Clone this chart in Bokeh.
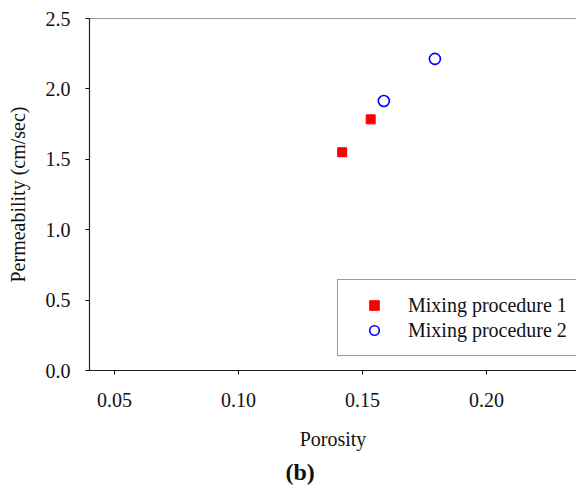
from bokeh.plotting import figure
from bokeh.models import Range1d, FixedTicker, Span, Title, NumeralTickFormatter
from bokeh.embed import file_html
from bokeh.resources import INLINE

# Data
proc1_porosity = [0.1418, 0.1533]
proc1_perm = [1.55, 1.784]
proc2_porosity = [0.1586, 0.1792]
proc2_perm = [1.914, 2.213]

x_ticks = [0.05, 0.10, 0.15, 0.20]
y_ticks = [0.0, 0.5, 1.0, 1.5, 2.0, 2.5]

FONT = "'Liberation Serif', 'Times New Roman', serif"
FS = "20px"

p = figure(width=576, height=488, output_backend="svg", toolbar_location=None,
           x_range=Range1d(0.0399, 0.2363), y_range=Range1d(0, 2.5),
           min_border_left=89, min_border_right=0, min_border_top=18, min_border_bottom=116)
p.outline_line_color = None
p.grid.grid_line_color = None
p.background_fill_color = "white"
p.border_fill_color = "white"

p.add_layout(Span(location=2.5, dimension="width", line_color="#333333", line_width=1.2))

p.scatter(proc1_porosity, proc1_perm, marker="square", size=9, fill_color="#ff0000",
          line_color="#ff0000", legend_label="Mixing procedure 1")
p.scatter(proc2_porosity, proc2_perm, marker="circle", size=11, fill_color=None,
          line_color="#0000ff", line_width=1.6, legend_label="Mixing procedure 2")

for ax in (p.xaxis[0], p.yaxis[0]):
    ax.axis_line_color = "#222222"
    ax.axis_line_width = 1.2
    ax.major_tick_out = 4
    ax.major_tick_in = 0
    ax.minor_tick_line_color = None
    ax.major_label_text_font = FONT
    ax.major_label_text_font_size = FS
    ax.major_label_text_color = "#111111"
    ax.axis_label_text_font = FONT
    ax.axis_label_text_font_size = FS
    ax.axis_label_text_font_style = "normal"
    ax.axis_label_text_color = "#111111"

p.xaxis.ticker = FixedTicker(ticks=x_ticks)
p.yaxis.ticker = FixedTicker(ticks=y_ticks)
p.xaxis.formatter = NumeralTickFormatter(format="0.00")
p.yaxis.formatter = NumeralTickFormatter(format="0.0")
p.xaxis.axis_label = "Porosity"
p.yaxis.axis_label = "Permeability (cm/sec)"
p.xaxis.major_label_standoff = 18
p.yaxis.major_label_standoff = 15
p.xaxis.axis_label_standoff = 18
p.yaxis.axis_label_standoff = 14

lg = p.legend[0]
lg.location = (248, 14)
lg.padding = 13
lg.spacing = 1
lg.glyph_width = 46
lg.glyph_height = 24
lg.label_height = 24
lg.label_standoff = 11
lg.label_text_font = FONT
lg.label_text_font_size = FS
lg.label_text_color = "#111111"
lg.border_line_color = "#333333"
lg.border_line_width = 1.2
lg.background_fill_alpha = 1.0
lg.margin = 0

t = Title(text="(b)", align="left", offset=196, text_font=FONT, text_font_size="24px",
          text_font_style="bold", text_color="#111111", standoff=8)
p.add_layout(t, "below")

open("out.html", "w").write(file_html(p, INLINE))
